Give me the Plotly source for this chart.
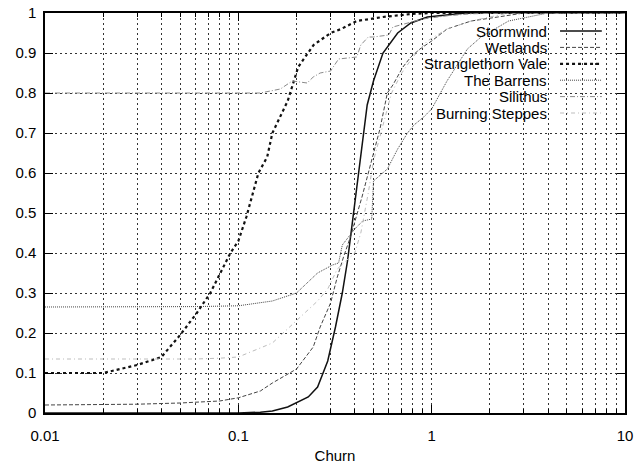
import plotly.graph_objects as go

# ---- data ----
storm_x = [0.01, 0.05, 0.1, 0.13, 0.15, 0.18, 0.2, 0.23, 0.257, 0.29, 0.318, 0.345, 0.367, 0.394, 0.417, 0.445, 0.464, 0.5, 0.56, 0.667, 0.78, 0.95, 1.16, 1.5, 10]
storm_y = [0.0, 0.0, 0.0, 0.002, 0.005, 0.015, 0.025, 0.04, 0.065, 0.13, 0.215, 0.30, 0.38, 0.5, 0.6, 0.71, 0.77, 0.83, 0.9, 0.95, 0.975, 0.99, 0.995, 1.0, 1.0]

wet_x = [0.01, 0.03, 0.05, 0.08, 0.1, 0.13, 0.15, 0.2, 0.244, 0.265, 0.30, 0.325, 0.35, 0.38, 0.436, 0.48, 0.54, 0.59, 0.63, 0.71, 0.78, 0.87, 1.0, 1.2, 1.6, 2.2, 3.0, 10]
wet_y = [0.02, 0.022, 0.025, 0.03, 0.038, 0.055, 0.075, 0.11, 0.165, 0.215, 0.275, 0.34, 0.39, 0.44, 0.54, 0.615, 0.71, 0.8, 0.82, 0.865, 0.89, 0.91, 0.93, 0.96, 0.98, 0.99, 1.0, 1.0]

stv_x = [0.01, 0.02, 0.03, 0.04, 0.05, 0.061, 0.0716, 0.08, 0.091, 0.1, 0.11, 0.127, 0.141, 0.15, 0.18, 0.204, 0.245, 0.30, 0.34, 0.41, 0.56, 0.8, 1.0, 10]
stv_y = [0.1, 0.1, 0.12, 0.14, 0.195, 0.25, 0.3, 0.345, 0.4, 0.43, 0.49, 0.6, 0.64, 0.7, 0.78, 0.865, 0.92, 0.95, 0.96, 0.98, 0.99, 0.998, 1.0, 1.0]

bar_x = [0.01, 0.03, 0.06, 0.1, 0.15, 0.2, 0.257, 0.307, 0.33, 0.345, 0.37, 0.4, 0.44, 0.49, 0.5, 0.53, 0.59, 0.667, 0.75, 0.81, 0.91, 1.0, 1.2, 1.53, 1.8, 2.5, 4.0, 10]
bar_y = [0.265, 0.265, 0.266, 0.268, 0.28, 0.30, 0.35, 0.37, 0.375, 0.42, 0.44, 0.46, 0.48, 0.485, 0.58, 0.59, 0.61, 0.66, 0.70, 0.72, 0.74, 0.76, 0.83, 0.91, 0.94, 0.98, 1.0, 1.0]

sil_x = [0.01, 0.05, 0.1, 0.13, 0.165, 0.19, 0.227, 0.244, 0.265, 0.30, 0.33, 0.41, 0.43, 0.47, 0.5, 0.6, 0.63, 0.75, 0.9, 1.2, 1.6, 2.5, 10]
sil_y = [0.8, 0.8, 0.8, 0.8, 0.81, 0.83, 0.825, 0.84, 0.85, 0.855, 0.885, 0.89, 0.92, 0.94, 0.94, 0.945, 0.965, 0.975, 0.985, 0.993, 0.998, 1.0, 1.0]

bs_x = [0.01, 0.03, 0.06, 0.08, 0.1, 0.15, 0.2, 0.257, 0.29, 0.325, 0.36, 0.4, 0.43, 0.47, 0.5, 0.56, 0.62, 0.7, 0.8, 0.95, 1.2, 1.6, 2.5, 10]
bs_y = [0.135, 0.135, 0.135, 0.137, 0.14, 0.175, 0.23, 0.28, 0.31, 0.36, 0.38, 0.40, 0.45, 0.55, 0.63, 0.72, 0.8, 0.85, 0.89, 0.93, 0.96, 0.98, 1.0, 1.0]

names = ["Stormwind", "Wetlands", "Stranglethorn Vale", "The Barrens", "Silithus", "Burning Steppes"]
x_tickvals = [0.01, 0.1, 1, 10]
x_ticktext = ["0.01", "0.1", "1", "10"]

# ---- styles ----
styles = [
    dict(color="#111111", width=1.5, dash="solid"),
    dict(color="#444444", width=1.0, dash="4px,2px"),
    dict(color="#111111", width=2.2, dash="3px,3px"),
    dict(color="#444444", width=1.0, dash="1px,1px"),
    dict(color="#8a8a8a", width=1.0, dash="5px,2px,1px,2px"),
    dict(color="#bdbdbd", width=1.0, dash="4px,3px,1px,3px"),
]
series = [(storm_x, storm_y), (wet_x, wet_y), (stv_x, stv_y), (bar_x, bar_y), (sil_x, sil_y), (bs_x, bs_y)]

fig = go.Figure()
for (xs, ys), nm, st in zip(series, names, styles):
    fig.add_trace(go.Scatter(x=xs, y=ys, mode="lines", name=nm, line=st, showlegend=False))

FONT = "Liberation Sans, Arial, sans-serif"
grid = dict(showgrid=True, gridcolor="#333333", gridwidth=1, griddash="2px,3px")

minor_vals = [m * 10 ** e for e in (-2, -1, 0) for m in range(2, 10)]

fig.update_xaxes(
    type="log", range=[-2, 1],
    tickvals=x_tickvals, ticktext=x_ticktext,
    ticks="inside", ticklen=8, tickwidth=1.2, tickcolor="black",
    showline=True, linecolor="black", linewidth=1.5, mirror="ticks",
    tickfont=dict(family=FONT, size=15, color="black"),
    ticklabelstandoff=8,
    automargin=False,
    minor=dict(tickvals=minor_vals, ticks="inside", ticklen=4, tickcolor="black",
               showgrid=True, gridcolor="#333333", gridwidth=1, griddash="2px,3px"),
    title=dict(text="Churn", font=dict(family=FONT, size=15, color="black"), standoff=8),
    zeroline=False, **grid,
)
fig.update_yaxes(
    range=[0, 1], dtick=0.1, tick0=0,
    ticks="inside", ticklen=8, tickwidth=1.2, tickcolor="black",
    showline=True, linecolor="black", linewidth=1.5, mirror="ticks",
    tickfont=dict(family=FONT, size=15, color="black"),
    ticklabelstandoff=4,
    automargin=False,
    zeroline=False, **grid,
)

# gnuplot-style key: right-aligned text, line sample on the right
row_y = [0.955, 0.914, 0.873, 0.832, 0.791, 0.750]
shapes = []
annotations = []
for nm, st, yy in zip(names, styles, row_y):
    annotations.append(dict(
        xref="paper", yref="paper", x=0.867, y=yy, text=nm, showarrow=False,
        xanchor="right", yanchor="middle", borderpad=0,
        font=dict(family=FONT, size=15, color="black"),
    ))
    shapes.append(dict(
        type="line", xref="paper", yref="paper", x0=0.888, x1=0.960, y0=yy, y1=yy,
        line=dict(color=st["color"], width=st["width"], dash=st["dash"]),
    ))

fig.update_layout(
    width=637, height=466,
    margin=dict(l=45, r=12, t=13, b=53, autoexpand=False),
    plot_bgcolor="white", paper_bgcolor="white",
    font=dict(family=FONT, size=15, color="black"),
    shapes=shapes, annotations=annotations,
    showlegend=False,
)

fig.write_html("out.html")
